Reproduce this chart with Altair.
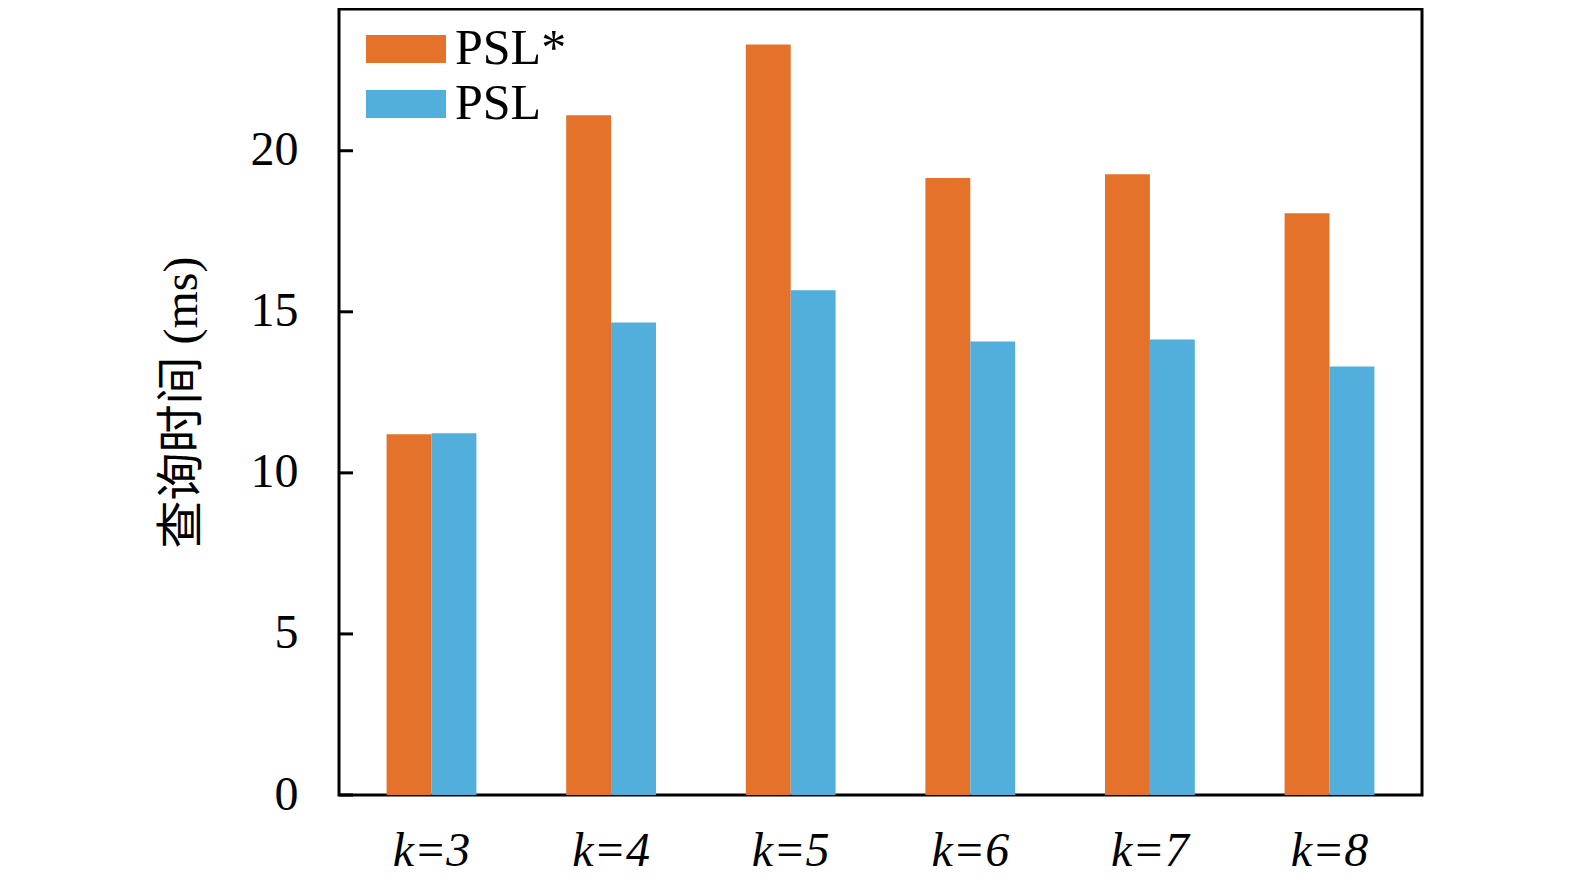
import pandas as pd
import altair as alt

# values
categories = ["k=3", "k=4", "k=5", "k=6", "k=7", "k=8"]
series_names = ["PSL*", "PSL"]
psl_star = [11.2, 21.1, 23.3, 19.15, 19.27, 18.06]
psl = [11.23, 14.67, 15.67, 14.08, 14.14, 13.3]
y_ticks = [0, 5, 10, 15, 20]

colors = ["#E5722A", "#52AEDB"]
font = "Liberation Serif"

rows = []
for k, a, b in zip(categories, psl_star, psl):
    rows.append({"k": k, "series": "PSL*", "time": a})
    rows.append({"k": k, "series": "PSL", "time": b})
data = pd.DataFrame(rows)
ticks = pd.DataFrame({"t": y_ticks})

y_scale = alt.Scale(domain=[0, 24.4], nice=False)

bars = alt.Chart(data).mark_bar().encode(
    x=alt.X(
        "k:N",
        sort=categories,
        scale=alt.Scale(paddingInner=0.5, paddingOuter=0.265),
        axis=alt.Axis(
            title=None,
            labelFontSize=48,
            labelFont=font,
            labelFontStyle="italic",
            labelColor="black",
            labelAngle=0,
            labelPadding=32,
            ticks=False,
            domain=False,
        ),
    ),
    xOffset=alt.XOffset("series:N", sort=series_names),
    y=alt.Y(
        "time:Q",
        scale=y_scale,
        axis=alt.Axis(
            title="查询时间 (ms)",
            titleFont=f"{font}, Noto Sans CJK SC",
            titleFontSize=48,
            titleFontWeight="normal",
            titleColor="black",
            titlePadding=44,
            values=y_ticks,
            labelFontSize=48,
            labelFont=font,
            labelColor="black",
            labelPadding=41,
            grid=False,
            ticks=False,
            domain=False,
        ),
    ),
    color=alt.Color(
        "series:N",
        sort=series_names,
        scale=alt.Scale(domain=series_names, range=colors),
        title=None,
        legend=alt.Legend(
            orient="none",
            legendX=42,
            legendY=15,
            symbolType="M-2,-0.7L2,-0.7L2,0.7L-2,0.7Z",
            symbolSize=1600,
            symbolStrokeWidth=0,
            symbolOpacity=1,
            labelFont=font,
            labelFontSize=50,
            labelColor="black",
            labelOffset=24,
            rowPadding=5,
            padding=0,
        ),
    ),
)

# inward ticks on the left axis
tick_marks = alt.Chart(ticks).mark_rule(color="black", strokeWidth=3).encode(
    y=alt.Y("t:Q", scale=y_scale),
    x=alt.value(0),
    x2=alt.value(14),
)

chart = (
    alt.layer(bars, tick_marks)
    .properties(
        width=1083,
        height=786,
        autosize=alt.AutoSizeParams(type="none"),
        padding={"left": 331, "top": 1, "right": 120, "bottom": 85},
    )
    .configure_view(stroke="black", strokeWidth=3)
)

chart.save("out.html", embed_options={"renderer": "svg", "actions": False})
